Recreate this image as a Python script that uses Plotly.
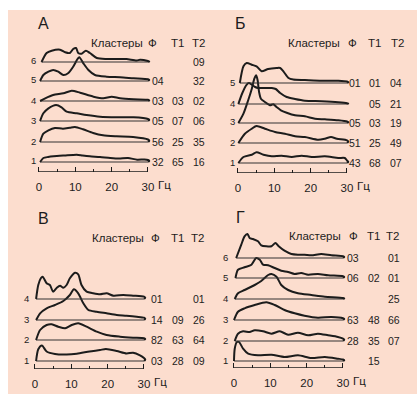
import plotly.graph_objects as go

W, H = 417, 394
FONT = "Liberation Sans, Arial, sans-serif"
INK = "#1c1c1c"
PEACH = "rgb(252,221,206)"

# ---------------- DATA (frequency Hz, relative power) ----------------
A1 = [(0.3,0),(1.2,4),(2.5,5),(4,5.7),(7,6.5),(10.4,7.3),(12,6.5),(14,5.7),(16.8,5),(19.6,4),(22,3.5),(24.5,4),(27,2.3),(29,2.5),(30,2)]
A2 = [(0.3,0),(1.2,8.3),(2.6,11.7),(4.4,14),(6.6,13.3),(8.5,14.3),(9.9,15),(12.1,12.7),(14.9,9),(17.6,6.7),(21.3,5.7),(25.9,5),(30,2.5)]
A3 = [(0.3,0),(1.2,7.7),(2.6,12.7),(4.7,16),(6.2,13.7),(7.6,9.3),(10.4,7.7),(13.1,6),(16.8,4.3),(21.4,3.7),(26,3.7),(30,2)]
A4 = [(0.3,0),(1.7,2.7),(3.9,6),(6.7,7.7),(9,10.3),(11.3,8.3),(15,4.3),(17.7,2.7),(20,4.3),(22.3,2.7),(26,1.7),(30,1.2)]
A5 = [(0.3,0),(1.2,6),(2.6,9.3),(3.9,11),(5.3,9.3),(6.7,6),(8,7.7),(9.4,14.3),(10.6,22),(11.1,23.7),(12.2,17.7),(13.6,11),(15.4,6),(18.6,4.3),(22.3,3.7),(26,2.7),(30,1.7)]
A6 = [(0.7,0),(2.1,9),(3.5,11.3),(5.8,12.3),(7.2,9.7),(8.5,9),(9.4,13),(10.2,14),(10.8,9),(11.7,8.3),(12.9,11.3),(14,9),(15.9,4),(18.6,3),(22.3,3),(24.1,3),(26.9,1.5),(27.8,2.3),(30,1)]

B1 = [(0.1,0),(1.5,6),(3.8,8.3),(5.1,10.7),(7,8.3),(9.3,6.7),(12,7.3),(14.8,6),(17.5,7.3),(20.3,6),(23.9,6.7),(27.6,5),(29.4,5),(30,2.5)]
B2 = [(0.1,0),(1.9,9.3),(3.8,14.3),(5.1,17),(7.4,14.3),(10.2,11),(12.9,9.3),(15.7,6.7),(18.4,6),(22.1,3.3),(23.9,4.3),(25.6,6),(27.2,4.3),(30,2.7)]
B3 = [(0.1,0),(1.5,9.3),(2.8,22.7),(3.8,34.3),(4.5,44.3),(5,47.7),(5.4,42.7),(5.8,31),(6.3,24.3),(7.4,21),(8.8,17.7),(9.7,18.7),(10.6,16),(11.8,12.7),(13.4,10.3),(15.7,7.7),(18.4,6.7),(21.2,4.3),(23.9,3.7),(27.6,2.7),(30,1.5)]
B4 = [(0.1,0),(1.2,11),(2.4,19.3),(3,21),(3.8,19.3),(4.7,17),(5.6,16),(7.4,16),(9.3,16),(10.4,15),(11.6,11),(13.4,7),(15.7,5),(18.4,3.3),(23,2.7),(27.6,1.7),(30,0.8)]
B5 = [(0.5,0),(1.5,16.7),(2.4,20),(3.8,18.3),(5.1,16.7),(6.5,11.7),(8.3,14),(10.6,15),(11.6,15),(12.5,11.7),(13.9,5),(15.2,3.5),(18.4,3),(23,2.3),(27.6,2.3),(30,1.5)]

V1 = [(0.3,0),(0.9,11.7),(1.9,15.5),(3.2,9.5),(5.5,7),(8.7,6.5),(11.5,7.3),(15,9.5),(17.9,11),(19.5,12),(22.5,10),(25.2,7.5),(27,8.3),(28.9,5.7),(30,3)]
V2 = [(0.3,0),(1.4,10),(3.2,15),(4.6,15.7),(6.4,13.3),(8.3,11.7),(10.1,15),(11.9,16.7),(14.2,13.3),(17,8.3),(19.7,5),(23.4,3.3),(27,2.3),(30,1.7)]
V3 = [(0.3,0),(1.4,6.7),(3.2,11.7),(5.5,15),(7.8,19),(9.6,25),(10.7,30.7),(11.9,26.7),(13.3,16.7),(14.7,10),(17,8.3),(19.7,6.7),(22.5,5),(25.2,4.3),(28,3.3),(30,2.3)]
V4 = [(0.3,0),(0.9,14),(1.6,20.7),(2.1,22.3),(3.2,15.7),(4.1,14),(5,7.3),(6,11.3),(6.9,13.3),(7.8,11.3),(8.7,14),(9.6,20.7),(11,26.3),(11.9,24.7),(12.8,14),(14.2,7.3),(16,5.7),(17.9,4.7),(19.7,5.7),(21.6,3.3),(24.3,4),(27,3.3),(30,2.3)]

G1 = [(0,0),(0.2,12.3),(0.8,19),(1.4,19),(2.5,12.3),(3.9,7.3),(6.6,5.7),(10.3,6.3),(13.9,4),(17.6,5.7),(21.3,3),(25,4),(28.6,2.3),(30,1.5)]
G2 = [(0.2,0),(1.1,7.3),(2.5,9.7),(4.3,9),(5.7,10.7),(8,9.7),(10.3,7.3),(12.6,9.7),(14.9,6.3),(17.6,8.3),(20.4,5.7),(23.1,7.3),(25.9,5.7),(28.6,4),(30,2.3)]
G3 = [(0,0),(1.1,8.3),(2.9,11.7),(5.7,15),(8.9,17.7),(11.2,15),(13.9,10),(16.7,6.7),(19.4,4.3),(23.1,2.3),(26.8,3),(30,1.7)]
G4 = [(0.2,0),(1.1,5.7),(2.9,9),(5.7,14),(7.5,18),(9.4,24),(10.3,25),(11.7,22.3),(13,14),(14.9,9),(17.6,5.7),(21.3,4),(25,2.3),(30,1)]
G5 = [(0.4,0),(1.1,8.3),(2.9,10.7),(4.8,13.3),(6.1,20),(7.1,18.3),(8,13.3),(9.4,12.7),(11.2,10),(13,7.3),(14.9,6),(16.7,4),(18.5,5),(20.4,3.3),(23.1,4),(25.9,2.7),(30,1.7)]
G6 = [(0.6,0),(2,13.3),(2.9,21.7),(3.7,24),(4.3,20),(5.2,19),(6.6,16.7),(7.5,12.7),(8.9,11.7),(10.3,11.7),(11.4,15),(12.3,11.7),(13.9,7.3),(15.8,4),(17.6,3.3),(19.4,3.3),(21.3,2.7),(24,4),(26.8,2.7),(30,1.7)]

# cluster percentages, rows 1..n  (Ф, Т1, Т2)
A_phi = ["32","56","05","03","04",""]
A_t1  = ["65","25","07","03","",""]
A_t2  = ["16","35","06","02","32","09"]
B_phi = ["43","51","05","","01"]
B_t1  = ["68","25","03","05","01"]
B_t2  = ["07","49","19","21","04"]
V_phi = ["03","82","14","01"]
V_t1  = ["28","63","09",""]
V_t2  = ["09","64","26","01"]
G_phi = ["","28","63","","06","03"]
G_t1  = ["15","35","48","","02",""]
G_t2  = ["","07","66","25","01","01"]

panel_letters = ["А","Б","В","Г"]
header_labels = ["Кластеры","Ф","Т1","Т2"]
tick_vals = [0,10,20,30]
minor_vals = [5,15,25]
unit_label = "Гц"

# ---------------- LAYOUT (pixel geometry of each panel) ----------------
panels = [
    dict(curves=[A1,A2,A3,A4,A5,A6], cols=[A_phi,A_t1,A_t2], x0=39, x30=148, axis_y=172,
         offsets=[10,30,51,71,91,110], ymax=140, rowlab_x=33, colx=[158,178,199],
         letter=(43,23), head_y=43, head_x=[117,152,177,198]),
    dict(curves=[B1,B2,B3,B4,B5], cols=[B_phi,B_t1,B_t2], x0=238, x30=347, axis_y=173,
         offsets=[10,30,50,69,90], ymax=140, rowlab_x=232, colx=[355,375,396],
         letter=(240,23), head_y=43, head_x=[314,352,374,397]),
    dict(curves=[V1,V2,V3,V4], cols=[V_phi,V_t1,V_t2], x0=35, x30=144, axis_y=369,
         offsets=[8,29,49,70], ymax=100, rowlab_x=26, colx=[157,178,199],
         letter=(43,218), head_y=238, head_x=[118,155,177,197]),
    dict(curves=[G1,G2,G3,G4,G5,G6], cols=[G_phi,G_t1,G_t2], x0=234, x30=343, axis_y=368,
         offsets=[7,27,48,69,90,110], ymax=140, rowlab_x=225, colx=[353,374,394],
         letter=(241,217), head_y=236, head_x=[315,353,373,392]),
]

def px(x): return x / W
def py(y): return 1 - y / H

fig = go.Figure()
annotations = []
layout_axes = {}

for i, p in enumerate(panels):
    n = i + 1
    xa = "x" if n == 1 else f"x{n}"
    ya = "y" if n == 1 else f"y{n}"
    k = (p["x30"] - p["x0"]) / 30.0
    xr = [-1.0, 31.5]
    dom_x = [px(p["x0"] + xr[0] * k), px(p["x0"] + xr[1] * k)]
    dom_y = [py(p["axis_y"]), py(p["axis_y"] - p["ymax"])]
    xkey = "xaxis" if n == 1 else f"xaxis{n}"
    ykey = "yaxis" if n == 1 else f"yaxis{n}"
    layout_axes[xkey] = dict(
        domain=dom_x, range=xr, anchor=ya, showgrid=False, zeroline=False, showline=False,
        ticks="inside", ticklen=5, tickwidth=1.3, tickcolor=INK,
        tickvals=tick_vals, ticktext=[str(v) for v in tick_vals],
        tickfont=dict(family=FONT, size=11.5, color=INK), ticklabelstandoff=6,
        minor=dict(tickvals=minor_vals, ticks="inside", ticklen=3.5, tickwidth=1.1, tickcolor=INK, showgrid=False),
        fixedrange=True)
    layout_axes[ykey] = dict(domain=dom_y, range=[0, p["ymax"]], anchor=xa, visible=False, fixedrange=True)

    # axis line
    fig.add_trace(go.Scatter(x=[0, 30], y=[0, 0], mode="lines", xaxis=xa, yaxis=ya,
                             line=dict(color=INK, width=1.4), hoverinfo="skip", showlegend=False))
    for r, curve in enumerate(p["curves"]):
        off = p["offsets"][r]
        hz = [c[0] for c in curve]
        pw = [c[1] for c in curve]
        # baseline
        fig.add_trace(go.Scatter(x=[hz[0], 30], y=[off, off], mode="lines", xaxis=xa, yaxis=ya,
                                 line=dict(color="#333", width=1.1), hoverinfo="skip", showlegend=False))
        # spectrum outline closing back to baseline at the right end
        xs = hz + [30.35, 30.05]
        ys = [off + v for v in pw] + [off + pw[-1] * 0.5, off]
        fig.add_trace(go.Scatter(x=xs, y=ys, mode="lines", xaxis=xa, yaxis=ya,
                                 line=dict(color=INK, width=2, shape="spline", smoothing=0.7),
                                 hoverinfo="skip", showlegend=False))
        # row label
        base_px = p["axis_y"] - off
        annotations.append(dict(text=str(r + 1), x=px(p["rowlab_x"]), y=py(base_px - 1),
                                xref="paper", yref="paper", showarrow=False, xanchor="center",
                                yanchor="middle", font=dict(family=FONT, size=9.5, color=INK)))
        for c, col in enumerate(p["cols"]):
            t = col[r]
            if t:
                annotations.append(dict(text=t, x=px(p["colx"][c]), y=py(base_px), xref="paper",
                                        yref="paper", showarrow=False, xanchor="center", yanchor="middle",
                                        font=dict(family=FONT, size=10.5, color=INK)))
    # unit label
    annotations.append(dict(text=unit_label, x=30, xref=xa, y=py(p["axis_y"] + 13), yref="paper",
                            xshift=17, showarrow=False, xanchor="center", yanchor="middle",
                            font=dict(family=FONT, size=11.5, color=INK)))
    # panel letter
    annotations.append(dict(text=panel_letters[i], x=px(p["letter"][0]), y=py(p["letter"][1]),
                            xref="paper", yref="paper", showarrow=False, xanchor="center",
                            yanchor="middle", font=dict(family=FONT, size=16, color=INK)))
    # header
    for hx, hl in zip(p["head_x"], header_labels):
        annotations.append(dict(text=hl, x=px(hx), y=py(p["head_y"]), xref="paper", yref="paper",
                                showarrow=False, xanchor="center", yanchor="middle",
                                font=dict(family=FONT, size=11.5, color=INK)))

fig.update_layout(
    width=W, height=H, margin=dict(l=0, r=0, t=0, b=0),
    paper_bgcolor="white", plot_bgcolor="rgba(0,0,0,0)",
    showlegend=False, annotations=annotations,
    shapes=[dict(type="rect", xref="paper", yref="paper", x0=px(8), x1=1, y0=0, y1=py(10),
                 fillcolor=PEACH, line=dict(width=0), layer="below")],
    **layout_axes)

fig.write_html("out.html", config=dict(displayModeBar=False))
